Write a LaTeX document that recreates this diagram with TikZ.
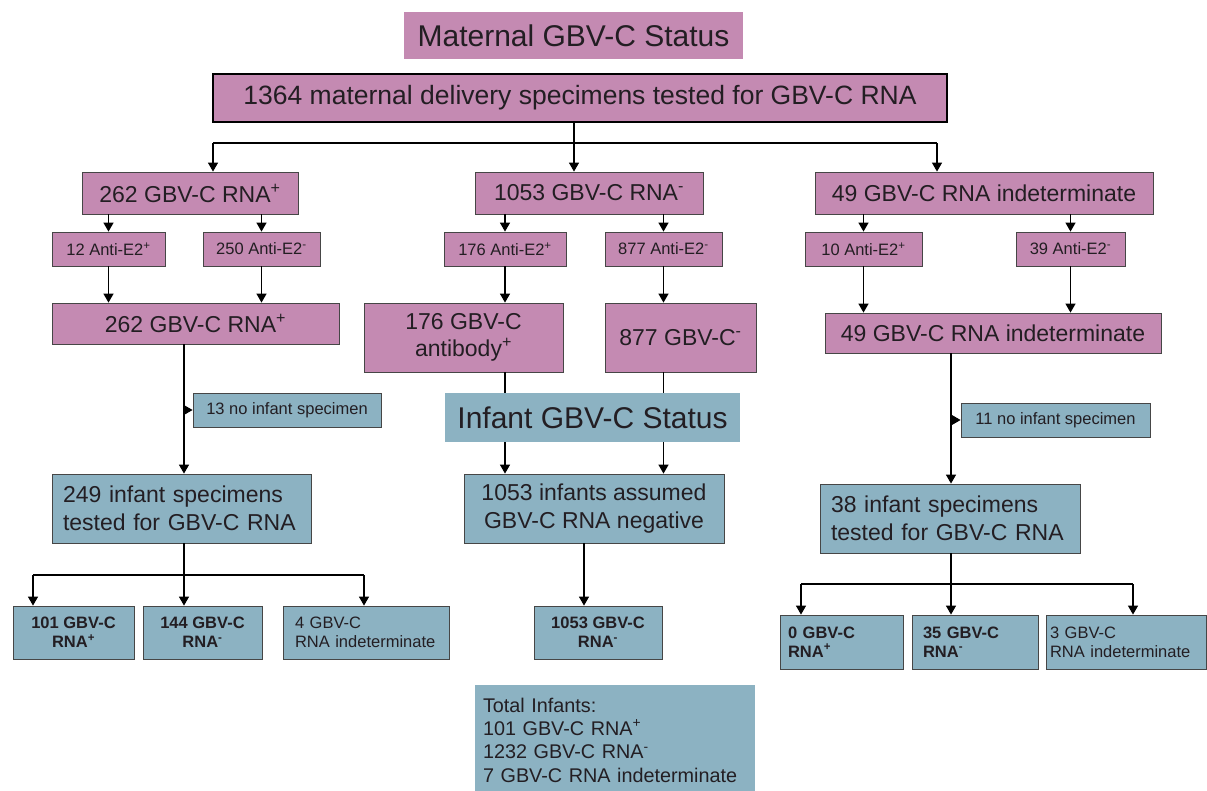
\documentclass[tikz,border=0pt]{standalone}
\usepackage{fontspec}
\setmainfont{Liberation Sans}
\usetikzlibrary{arrows.meta}
\definecolor{mauve}{RGB}{196,138,178}
\definecolor{slate}{RGB}{140,178,194}
\definecolor{rim}{RGB}{70,70,70}
\definecolor{ink}{RGB}{35,30,35}
\begin{document}
\begin{tikzpicture}[x=1pt,y=-1pt,
  every node/.style={text=ink, inner sep=2pt},
  pinkbox/.style={fill=mauve, draw=rim, line width=0.8pt},
  bluebox/.style={fill=slate, draw=rim, line width=0.8pt},
  sizeL/.style={font=\fontsize{30}{34}\selectfont},
  sizeM/.style={font=\fontsize{23}{27.5}\selectfont},
  sizeS/.style={font=\fontsize{16.5}{19}\selectfont},
  sizeB/.style={font=\fontsize{16.5}{19}\selectfont\bfseries},
  arr/.style={-{Triangle[width=10pt,length=9pt]}, line width=1.3pt},
  link/.style={line width=1.3pt}]
  \useasboundingbox[fill=white] (0,0) rectangle (1207,790);

  % maternal part
  \node[fill=mauve, sizeL, minimum width=339pt, minimum height=47pt] (mtitle) at (573.5,35.5) {Maternal GBV-C Status};
  \node[pinkbox, draw=black, line width=2pt, font=\fontsize{26.5}{30}\selectfont, minimum width=734pt, minimum height=48pt] (m1364) at (580,98) {1364 maternal delivery specimens tested for GBV-C RNA};

  \node[pinkbox, sizeM, minimum width=216pt, minimum height=42pt] (rnapos) at (190,193) {262 GBV-C RNA\textsuperscript{+}};
  \node[pinkbox, sizeM, minimum width=228pt, minimum height=42pt] (rnaneg) at (589,193) {1053 GBV-C RNA\textsuperscript{-}};
  \node[pinkbox, sizeM, minimum width=338pt, minimum height=42pt] (rnaind) at (984,193) {49 GBV-C RNA indeterminate};

  \node[pinkbox, sizeS, minimum width=113pt, minimum height=34pt] (ae12) at (108.5,249) {12 Anti-E2\textsuperscript{+}};
  \node[pinkbox, sizeS, minimum width=117pt, minimum height=34pt] (ae250) at (261.5,249) {250 Anti-E2\textsuperscript{-}};
  \node[pinkbox, sizeS, minimum width=122pt, minimum height=34pt] (ae176) at (505,249) {176 Anti-E2\textsuperscript{+}};
  \node[pinkbox, sizeS, minimum width=117pt, minimum height=34pt] (ae877) at (663.5,249) {877 Anti-E2\textsuperscript{-}};
  \node[pinkbox, sizeS, minimum width=117pt, minimum height=34pt] (ae10) at (863.5,249) {10 Anti-E2\textsuperscript{+}};
  \node[pinkbox, sizeS, minimum width=109pt, minimum height=34pt] (ae39) at (1070.5,249) {39 Anti-E2\textsuperscript{-}};

  \node[pinkbox, sizeM, minimum width=287pt, minimum height=41pt] (pos2) at (195.5,323.5) {262 GBV-C RNA\textsuperscript{+}};
  \node[pinkbox, sizeM, align=center, minimum width=199pt, minimum height=69pt] (ab176) at (463.5,337.5) {176 GBV-C\\antibody\textsuperscript{+}};
  \node[pinkbox, sizeM, minimum width=151pt, minimum height=69pt] (neg877) at (680.5,337.5) {877 GBV-C\textsuperscript{-}};
  \node[pinkbox, sizeM, minimum width=336pt, minimum height=40pt] (ind49) at (993,333) {49 GBV-C RNA indeterminate};

  % infant part
  \node[bluebox, sizeS, minimum width=188pt, minimum height=34pt] (noinf13) at (287,410) {13 no infant specimen};
  \node[fill=slate, sizeL, minimum width=295pt, minimum height=49pt] (infant) at (592.5,417.5) {Infant GBV-C Status};
  \node[bluebox, sizeS, minimum width=189pt, minimum height=34pt] (noinf11) at (1055.5,420) {11 no infant specimen};

  \node[bluebox, sizeM, align=left, text width=237pt, inner xsep=11pt, minimum height=69pt] (inf249) at (181.5,508.5) {249 infant specimens\\tested for GBV-C RNA};
  \node[bluebox, sizeM, align=center, minimum width=260pt, minimum height=69pt] (inf1053) at (594,508.5) {1053 infants assumed\\GBV-C RNA negative};
  \node[bluebox, sizeM, align=left, text width=238pt, inner xsep=11pt, minimum height=69pt] (inf38) at (950,518.5) {38 infant specimens\\tested for GBV-C RNA};

  \node[bluebox, sizeB, align=center, minimum width=121pt, minimum height=53pt] (o101) at (73.5,632.5) {101 GBV-C\\RNA\textsuperscript{+}};
  \node[bluebox, sizeB, align=center, minimum width=119pt, minimum height=53pt] (o144) at (202.5,632.5) {144 GBV-C\\RNA\textsuperscript{-}};
  \node[bluebox, sizeS, align=left, text width=142pt, inner xsep=12pt, minimum height=53pt] (o4) at (366,632.5) {4 GBV-C\\RNA indeterminate};
  \node[bluebox, sizeB, align=center, minimum width=128pt, minimum height=53pt] (o1053) at (598,632.5) {1053 GBV-C\\RNA\textsuperscript{-}};
  \node[bluebox, sizeB, align=left, text width=107pt, inner xsep=8pt, minimum height=54pt] (o0) at (841.5,642) {0 GBV-C\\RNA\textsuperscript{+}};
  \node[bluebox, sizeB, align=left, text width=104pt, inner xsep=11pt, minimum height=54pt] (o35) at (975,642) {35 GBV-C\\RNA\textsuperscript{-}};
  \node[bluebox, sizeS, align=left, text width=152pt, inner xsep=4pt, minimum height=54pt] (o3) at (1126,642) {3 GBV-C\\RNA indeterminate};

  \node[fill=slate, font=\fontsize{19.8}{23.3}\selectfont, align=left, text width=264pt, inner xsep=8pt, minimum height=110pt] (total) at (615,740) {Total Infants:\\101 GBV-C RNA\textsuperscript{+}\\1232 GBV-C RNA\textsuperscript{-}\\7 GBV-C RNA indeterminate};

  % junctions
  \coordinate (jtop) at (574,143);
  \coordinate (jl) at (213,143);
  \coordinate (jr) at (937,143);
  \coordinate (c249) at (184,575);
  \coordinate (l249) at (33,575);
  \coordinate (r249) at (364,575);
  \coordinate (c1053) at (584,575);
  \coordinate (c38) at (951,584);
  \coordinate (l38) at (801,584);
  \coordinate (r38) at (1133,584);

  % connectors
  \draw[link] (jl) -- (jr);
  \draw[arr] (jtop |- m1364.south) -- (jtop |- rnaneg.north);
  \draw[arr] (jl) -- (jl |- rnapos.north);
  \draw[arr] (jr) -- (jr |- rnaind.north);

  \draw[arr] (ae12 |- rnapos.south) -- (ae12.north);
  \draw[arr] (ae250 |- rnapos.south) -- (ae250.north);
  \draw[arr] (ae176 |- rnaneg.south) -- (ae176.north);
  \draw[arr] (ae877 |- rnaneg.south) -- (ae877.north);
  \draw[arr] (ae10 |- rnaind.south) -- (ae10.north);
  \draw[arr] (ae39 |- rnaind.south) -- (ae39.north);

  \draw[arr] (ae12.south) -- (ae12 |- pos2.north);
  \draw[arr] (ae250.south) -- (ae250 |- pos2.north);
  \draw[arr] (ae176.south) -- (ae176 |- ab176.north);
  \draw[arr] (ae877.south) -- (ae877 |- neg877.north);
  \draw[arr] (ae10.south) -- (ae10 |- ind49.north);
  \draw[arr] (ae39.south) -- (ae39 |- ind49.north);

  \draw[arr] (c249 |- pos2.south) -- (c249 |- inf249.north);
  \draw[arr] (c249 |- noinf13.west) -- (noinf13.west);
  \draw[link] (ae176 |- ab176.south) -- (ae176 |- infant.north);
  \draw[link] (ae877 |- neg877.south) -- (ae877 |- infant.north);
  \draw[arr] (ae176 |- infant.south) -- (ae176 |- inf1053.north);
  \draw[arr] (ae877 |- infant.south) -- (ae877 |- inf1053.north);
  \draw[arr] (c38 |- ind49.south) -- (c38 |- inf38.north);
  \draw[arr] (c38 |- noinf11.west) -- (noinf11.west);

  \draw[link] (c249 |- inf249.south) -- (c249);
  \draw[link] (l249) -- (r249);
  \draw[arr] (l249) -- (l249 |- o101.north);
  \draw[arr] (c249) -- (c249 |- o144.north);
  \draw[arr] (r249) -- (r249 |- o4.north);
  \draw[arr] (c1053 |- inf1053.south) -- (c1053 |- o1053.north);
  \draw[link] (c38 |- inf38.south) -- (c38);
  \draw[link] (l38) -- (r38);
  \draw[arr] (l38) -- (l38 |- o0.north);
  \draw[arr] (c38) -- (c38 |- o35.north);
  \draw[arr] (r38) -- (r38 |- o3.north);
\end{tikzpicture}
\end{document}
